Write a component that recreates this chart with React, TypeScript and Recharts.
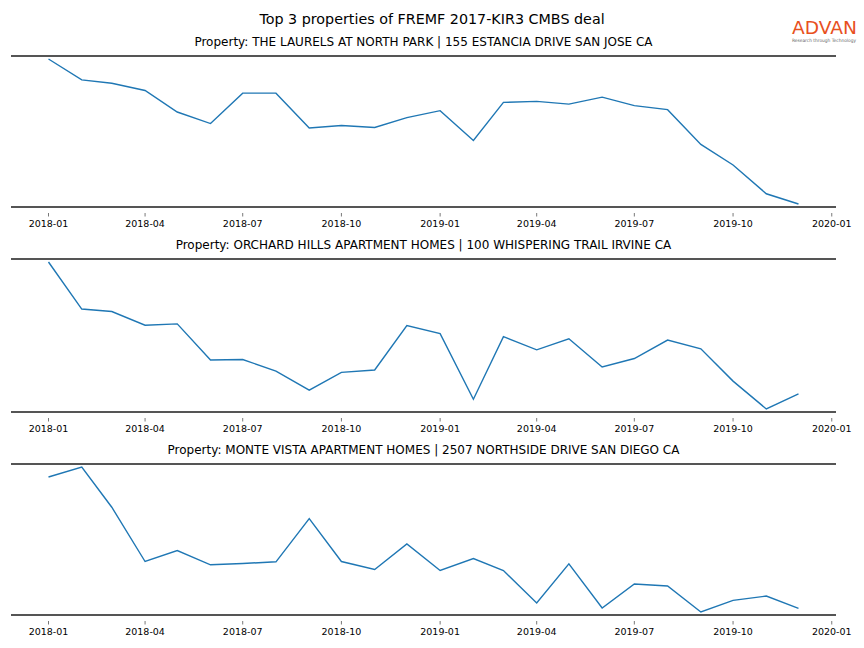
import { Line, LineChart, ReferenceLine, XAxis, YAxis } from "recharts";

const chartTitle = "Top 3 properties of FREMF 2017-KIR3 CMBS deal";

const months = [
  "2018-01", "2018-02", "2018-03", "2018-04", "2018-05", "2018-06",
  "2018-07", "2018-08", "2018-09", "2018-10", "2018-11", "2018-12",
  "2019-01", "2019-02", "2019-03", "2019-04", "2019-05", "2019-06",
  "2019-07", "2019-08", "2019-09", "2019-10", "2019-11", "2019-12",
];

const tickLabels = [
  "2018-01", "2018-04", "2018-07", "2018-10",
  "2019-01", "2019-04", "2019-07", "2019-10", "2020-01",
];

// no y axis in the original, so these are relative levels
const laurels = [
  148.7, 127.7, 124.3, 117, 95.3, 83.7, 114.3, 114.3, 79.3, 81.7, 79.7, 89.7,
  96.7, 66.7, 105, 106, 103.3, 110.3, 101.7, 97.7, 62.7, 42, 13, 2.7,
];

const orchardHills = [
  149.6, 103, 100.6, 87, 88.3, 52.6, 53, 41.6, 22.6, 40.3, 42.6, 86.6,
  78.6, 13.6, 75.6, 62.6, 73.6, 45.6, 54, 72.3, 63.6, 31.6, 4, 19,
];

const monteVista = [
  138, 148, 107.7, 53.3, 64.3, 50, 51.3, 53, 96.3, 53.3, 45.3, 71,
  44.3, 56.3, 44.3, 11.7, 51, 6.7, 30.7, 28.7, 2.7, 14.3, 18.7, 6.3,
];

const propertyNames = [
  "Property: THE LAURELS AT NORTH PARK | 155 ESTANCIA DRIVE SAN JOSE CA",
  "Property: ORCHARD HILLS APARTMENT HOMES | 100 WHISPERING TRAIL IRVINE CA",
  "Property: MONTE VISTA APARTMENT HOMES | 2507 NORTHSIDE DRIVE SAN DIEGO CA",
];

const series = [laurels, orchardHills, monteVista];

const toTime = (m: string) => {
  const [y, mo] = m.split("-").map(Number);
  return Date.UTC(y, mo - 1, 1);
};

const fmtMonth = (t: number) => {
  const d = new Date(t);
  return `${d.getUTCFullYear()}-${String(d.getUTCMonth() + 1).padStart(2, "0")}`;
};

const times = months.map(toTime);
const span = times[times.length - 1] - times[0];
const xDomain = [times[0] - span * 0.05, times[times.length - 1] + span * 0.05];
const xTicks = tickLabels.map(toTime);

const FONT = "DejaVu Sans";
const SPINE = "#555555";

const panelTops = [56, 259, 464];
const panelHeights = [151, 153, 151];

function DateTick(props: any) {
  const { x, y, payload } = props;
  return (
    <g>
      <line x1={x} x2={x} y1={y + 6} y2={y + 9.5} stroke="#555" strokeWidth={0.8} />
      <text
        x={x}
        y={y + 16}
        textAnchor="middle"
        dominantBaseline="central"
        fontSize={9.5}
        fontFamily={FONT}
        fill="#000"
      >
        {fmtMonth(payload.value)}
      </text>
    </g>
  );
}

function Panel({ values, top, height }: { values: number[]; top: number; height: number }) {
  const data = times.map((t, i) => ({ t, v: values[i] }));
  const yMin = Math.min(...values) - 3;
  const yMax = Math.max(...values) + 3;
  return (
    <div style={{ position: "absolute", left: 0, top: top - 5 }}>
      <LineChart
        width={864}
        height={height + 35}
        data={data}
        margin={{ top: 5, right: 28, bottom: 0, left: 11 }}
      >
        <XAxis
          dataKey="t"
          type="number"
          domain={xDomain}
          allowDataOverflow
          ticks={xTicks}
          interval={0}
          height={30}
          tickSize={0}
          tickMargin={0}
          tickLine={false}
          tick={<DateTick />}
          axisLine={{ stroke: SPINE, strokeWidth: 2 }}
        />
        <YAxis hide domain={[yMin, yMax]} allowDataOverflow />
        <ReferenceLine y={yMax} stroke={SPINE} strokeWidth={2} />
        <Line
          type="linear"
          dataKey="v"
          stroke="#1f77b4"
          strokeWidth={1.4}
          dot={false}
          isAnimationActive={false}
        />
      </LineChart>
    </div>
  );
}

export default function App() {
  return (
    <div
      style={{
        position: "absolute",
        left: 0,
        top: 0,
        width: 864,
        height: 648,
        background: "#fff",
        fontFamily: FONT,
      }}
    >
      <svg width={864} height={648} style={{ position: "absolute", left: 0, top: 0 }}>
        <text x={432} y={19} textAnchor="middle" dominantBaseline="central" fontSize={14.3} fontFamily={FONT}>
          {chartTitle}
        </text>
        {propertyNames.map((name, i) => (
          <text
            key={name}
            x={423.5}
            y={panelTops[i] - 14}
            textAnchor="middle"
            dominantBaseline="central"
            fontSize={12}
            fontFamily={FONT}
          >
            {name}
          </text>
        ))}
        <text
          x={792}
          y={27}
          dominantBaseline="central"
          fontSize={18}
          fontFamily={FONT}
          fill="#e8501e"
          textLength={65}
          lengthAdjust="spacingAndGlyphs"
        >
          ADVAN
        </text>
        <text
          x={792}
          y={40}
          dominantBaseline="central"
          fontSize={4.5}
          fontFamily={FONT}
          fill="#666"
          textLength={64}
          lengthAdjust="spacingAndGlyphs"
        >
          Research through Technology
        </text>
      </svg>
      {series.map((values, i) => (
        <Panel key={i} values={values} top={panelTops[i]} height={panelHeights[i]} />
      ))}
    </div>
  );
}
